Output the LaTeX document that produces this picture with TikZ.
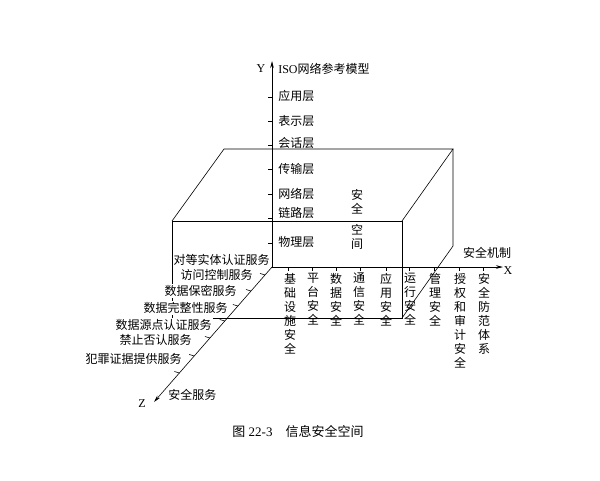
\documentclass[tikz,border=0pt]{standalone}
\usepackage{fontspec}
\setmainfont{Liberation Serif}
\newfontfamily\cjk{Noto Sans CJK SC}
\usetikzlibrary{arrows.meta,calc}
\begin{document}
\begin{tikzpicture}[x=1pt, y=-1pt, line width=0.6pt,
    axis/.style = {-{Stealth[length=7pt,width=3.5pt]}},
    main/.style = {font=\cjk\fontsize{12}{14}\selectfont, inner sep=1pt},
    layer/.style = {main, anchor=west},
    svc/.style = {main, anchor=east, fill=white},
    mech/.style = {main, anchor=north, align=center, inner sep=0pt},
    letter/.style = {font=\fontsize{12}{14}\selectfont, inner sep=0pt}]
\useasboundingbox (0,0) rectangle (600,480);

\coordinate (O) at (272,267);
\coordinate (Ytip) at (272,61);
\coordinate (Xtip) at (503,267);
\coordinate (Ztip) at (154,402);

\coordinate (f1) at (172,221);
\coordinate (f2) at (402,221);
\coordinate (f3) at (402,318);
\coordinate (f4) at (172,318);
\coordinate (b1) at (224,149);
\coordinate (b2) at (453,149);
\coordinate (b3) at (453,246);

\draw (f1) -- (f2) -- (f3) -- (f4) -- cycle;
\draw (f1) -- (b1) -- (b2) -- (f2);
\draw (b2) -- (b3) -- (f3);

\draw[axis] (O) -- (Ytip);
\draw[axis] (O) -- (Xtip);
\draw[axis] (O) -- (Ztip);

\foreach \t in {97,121,145,169,194,218,243} \draw (272,\t) -- ++(-4,0);
\foreach \t in {288,312,336,360,386,409,434,459,483} \draw (\t,267) -- ++(0,4);
\foreach \f in {0.059,0.178,0.289,0.4,0.526,0.659,0.785} \draw ($(O)!\f!(Ztip)$) -- ++(-5,-1.5);

\node[letter] (ylab) at (261,69) {Y};
\node[letter] (xlab) at (508,271) {X};
\node[letter] (zlab) at (142,404) {Z};

\node[layer] (iso) at (277,69) {{\rmfamily ISO}网络参考模型};
\node[layer] (l7) at (277,96) {应用层};
\node[layer] (l6) at (277,121) {表示层};
\node[layer] (l5) at (277,143) {会话层};
\node[layer] (l4) at (277,169) {传输层};
\node[layer] (l3) at (277,194) {网络层};
\node[layer] (l2) at (277,213) {链路层};
\node[layer] (l1) at (277,242) {物理层};

\node[mech] (space1) at (357,189) {安\\全};
\node[mech] (space2) at (357,224) {空\\间};

\node[main] (mechs) at (487,253) {安全机制};
\node[mech] (m1) at (290,273) {基\\础\\设\\施\\安\\全};
\node[mech] (m2) at (313,273) {平\\台\\安\\全};
\node[mech] (m3) at (336,273) {数\\据\\安\\全};
\node[mech] (m4) at (359,273) {通\\信\\安\\全};
\node[mech] (m5) at (386,273) {应\\用\\安\\全};
\node[mech] (m6) at (410,273) {运\\行\\安\\全};
\node[mech] (m7) at (435,273) {管\\理\\安\\全};
\node[mech] (m8) at (460,273) {授\\权\\和\\审\\计\\安\\全};
\node[mech] (m9) at (484,273) {安\\全\\防\\范\\体\\系};

\node[svc] (s1) at (271,260) {对等实体认证服务};
\node[svc] (s2) at (254,275) {访问控制服务};
\node[svc] (s3) at (238,291) {数据保密服务};
\node[svc] (s4) at (229,308) {数据完整性服务};
\node[svc] (s5) at (213,325) {数据源点认证服务};
\node[svc] (s6) at (193,340) {禁止否认服务};
\node[svc] (s7) at (183,359) {犯罪证据提供服务};
\node[main, anchor=west] (svcs) at (167,395) {安全服务};

\node[main, font=\fontsize{13}{15}\selectfont] (cap) at (298,432) {{\cjk 图} 22-3\quad{\cjk 信息安全空间}};
\end{tikzpicture}
\end{document}
